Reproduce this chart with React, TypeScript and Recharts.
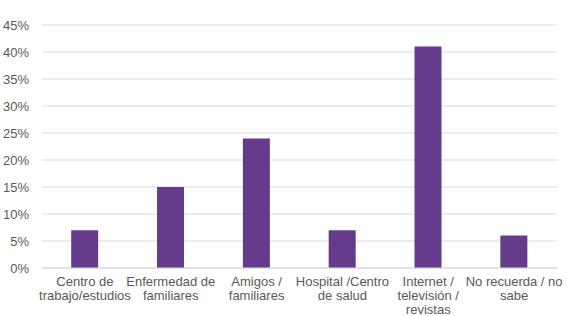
import React from "react";
import { BarChart, Bar, XAxis, YAxis, CartesianGrid } from "recharts";

const categories: string[][] = [
  ["Centro de", "trabajo/estudios"],
  ["Enfermedad de", "familiares"],
  ["Amigos /", "familiares"],
  ["Hospital /Centro", "de salud"],
  ["Internet /", "televisión /", "revistas"],
  ["No recuerda / no", "sabe"],
];
const values: number[] = [0.07, 0.15, 0.24, 0.07, 0.41, 0.06];
const yTicks: number[] = [0, 0.05, 0.1, 0.15, 0.2, 0.25, 0.3, 0.35, 0.4, 0.45];

const data = categories.map((c, i) => ({ name: String(i), value: values[i] }));

const FONT = "'Liberation Sans', Arial, sans-serif";

const XTick = (props: any) => {
  const { x, y, payload } = props;
  const lines = categories[Number(payload.value)];
  return (
    <text x={x} y={y} textAnchor="middle" fill="#595959" fontSize={13} fontFamily={FONT}>
      {lines.map((l, i) => (
        <tspan key={i} x={x} dy={i === 0 ? 18 : 14}>
          {l}
        </tspan>
      ))}
    </text>
  );
};

export default function App() {
  return (
    <div style={{ position: "absolute", left: 0, top: 0, width: 567, height: 316, background: "#fff" }}>
      <BarChart
        width={567}
        height={316}
        data={data}
        margin={{ top: 25, right: 10, bottom: 0, left: 0 }}
        barCategoryGap="34%"
      >
        <CartesianGrid vertical={false} stroke="#d9d9d9" />
        <XAxis
          dataKey="name"
          axisLine={{ stroke: "#d9d9d9" }}
          tickLine={false}
          tickSize={0}
          tickMargin={0}
          interval={0}
          tick={<XTick />}
          height={48}
        />
        <YAxis
          width={42}
          domain={[0, 0.45]}
          ticks={yTicks}
          axisLine={false}
          tickLine={false}
          tickSize={0}
          tickMargin={13}
          tickFormatter={(v: number) => `${Math.round(v * 100)}%`}
          tick={{ fill: "#595959", fontSize: 13, fontFamily: FONT }}
        />
        <Bar dataKey="value" fill="#653C8C" isAnimationActive={false} />
      </BarChart>
    </div>
  );
}
